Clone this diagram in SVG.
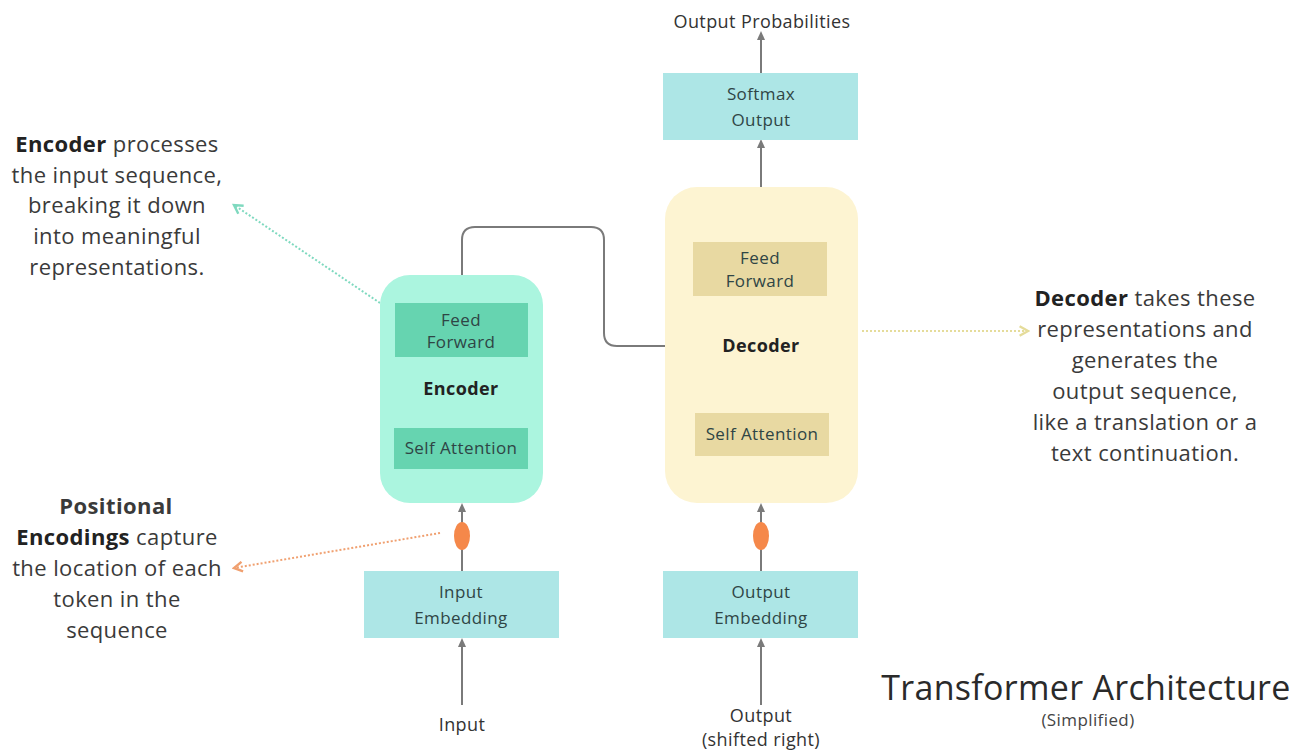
<svg xmlns="http://www.w3.org/2000/svg" width="1295" height="752" viewBox="0 0 1295 752">
<defs>
<style>
text{font-family:"Open Sans","Liberation Sans",sans-serif;text-anchor:middle;fill:#333}
.n{font-size:17px;letter-spacing:0.4px;fill:#2f4545}
.t{font-size:18px;letter-spacing:0.4px;fill:#333}
.b{font-weight:bold;fill:#222}
.h{font-size:18px}
.d{font-size:22px;letter-spacing:0.4px;fill:#3a3a3a}
.ln{stroke:#7a7a7a;stroke-width:2;fill:none}
.blue{fill:#ade6e6}
</style>
<marker id="ah" viewBox="0 0 10 10" refX="5" refY="5" markerWidth="5" markerHeight="5" orient="auto"><path d="M0 1 L9 5 L0 9 Z" fill="#7a7a7a"/></marker>
<marker id="aht" viewBox="0 0 10 10" refX="8" refY="5" markerWidth="6" markerHeight="6" orient="auto"><path d="M1 1 L8 5 L1 9" fill="none" stroke="#7fd9bf" stroke-width="2"/></marker>
<marker id="aho" viewBox="0 0 10 10" refX="8" refY="5" markerWidth="6" markerHeight="6" orient="auto"><path d="M1 1 L8 5 L1 9" fill="none" stroke="#f0a070" stroke-width="2"/></marker>
<marker id="ahy" viewBox="0 0 10 10" refX="8" refY="5" markerWidth="6" markerHeight="6" orient="auto"><path d="M1 1 L8 5 L1 9" fill="none" stroke="#e5dc9a" stroke-width="2"/></marker>
</defs>
<rect width="1295" height="752" fill="#fff"/>
<g id="connectors">
<path class="ln" d="M462 705 V642" marker-end="url(#ah)"/>
<path class="ln" d="M462 571 V507" marker-end="url(#ah)"/>
<path class="ln" d="M761 705 V642" marker-end="url(#ah)"/>
<path class="ln" d="M761 571 V507" marker-end="url(#ah)"/>
<path class="ln" d="M761 187 V143" marker-end="url(#ah)"/>
<path class="ln" d="M761 73 V35" marker-end="url(#ah)"/>
<path class="ln" d="M462 275 V240 Q462 227 475 227 H591 Q604 227 604 240 V333 Q604 346 617 346 H665"/>
<path d="M380 303 L234 205" stroke="#7fd9bf" stroke-width="2" stroke-dasharray="2 2" fill="none" marker-end="url(#aht)"/>
<path d="M440 533 L234 568" stroke="#f0a070" stroke-width="2" stroke-dasharray="2 2" fill="none" marker-end="url(#aho)"/>
<path d="M862 331 L1028 331" stroke="#e5dc9a" stroke-width="2" stroke-dasharray="2 2" fill="none" marker-end="url(#ahy)"/>
</g>
<g id="pos-enc">
<ellipse cx="462" cy="536" rx="8" ry="14" fill="#f5884a"/>
<ellipse cx="761" cy="536" rx="8" ry="14" fill="#f5884a"/>
</g>
<g id="encoder">
<rect x="380" y="275" width="163" height="228" rx="30" fill="#abf5df"/>
<rect x="395" y="303" width="133" height="54" fill="#66d4b0"/>
<text class="n" x="461" y="326">Feed</text>
<text class="n" x="461" y="348">Forward</text>
<text class="n b h" x="461" y="395">Encoder</text>
<rect x="394" y="428" width="134" height="41" fill="#66d4b0"/>
<text class="n" x="461" y="454">Self Attention</text>
</g>
<g id="decoder">
<rect x="665" y="187" width="193" height="316" rx="32" fill="#fdf4d2"/>
<rect x="693" y="242" width="134" height="54" fill="#e8d9a2"/>
<text class="n" x="760" y="264">Feed</text>
<text class="n" x="760" y="287">Forward</text>
<text class="n b h" x="761" y="352">Decoder</text>
<rect x="695" y="413" width="134" height="43" fill="#e8d9a2"/>
<text class="n" x="762" y="440">Self Attention</text>
</g>
<g id="softmax">
<rect class="blue" x="663" y="73" width="195" height="67"/>
<text class="n" x="761" y="100">Softmax</text>
<text class="n" x="761" y="126">Output</text>
</g>
<g id="input-embedding">
<rect class="blue" x="364" y="571" width="195" height="67"/>
<text class="n" x="461" y="598">Input</text>
<text class="n" x="461" y="624">Embedding</text>
</g>
<g id="output-embedding">
<rect class="blue" x="663" y="571" width="195" height="67"/>
<text class="n" x="761" y="598">Output</text>
<text class="n" x="761" y="624">Embedding</text>
</g>
<g id="labels">
<text class="t" x="762" y="28">Output Probabilities</text>
<text class="t" x="462" y="731">Input</text>
<text class="t" x="761" y="722">Output</text>
<text class="t" x="761" y="746">(shifted right)</text>
<text x="1086" y="700" style="font-size:34px;letter-spacing:0.3px;fill:#2a2a2a">Transformer Architecture</text>
<text x="1088" y="726" style="font-size:17px;letter-spacing:0.4px;fill:#444">(Simplified)</text>
</g>
<g id="enc-note">
<text class="d" x="117" y="152"><tspan class="b">Encoder</tspan> processes</text>
<text class="d" x="117" y="183">the input sequence,</text>
<text class="d" x="117" y="213">breaking it down</text>
<text class="d" x="117" y="244">into meaningful</text>
<text class="d" x="117" y="275">representations.</text>
</g>
<g id="pos-note">
<text class="d b" x="116" y="514">Positional</text>
<text class="d" x="117" y="545"><tspan class="b">Encodings</tspan> capture</text>
<text class="d" x="117" y="576">the location of each</text>
<text class="d" x="117" y="607">token in the</text>
<text class="d" x="117" y="638">sequence</text>
</g>
<g id="dec-note">
<text class="d" x="1145" y="306"><tspan class="b">Decoder</tspan> takes these</text>
<text class="d" x="1145" y="337">representations and</text>
<text class="d" x="1145" y="368">generates the</text>
<text class="d" x="1145" y="399">output sequence,</text>
<text class="d" x="1145" y="430">like a translation or a</text>
<text class="d" x="1145" y="461">text continuation.</text>
</g>
</svg>
